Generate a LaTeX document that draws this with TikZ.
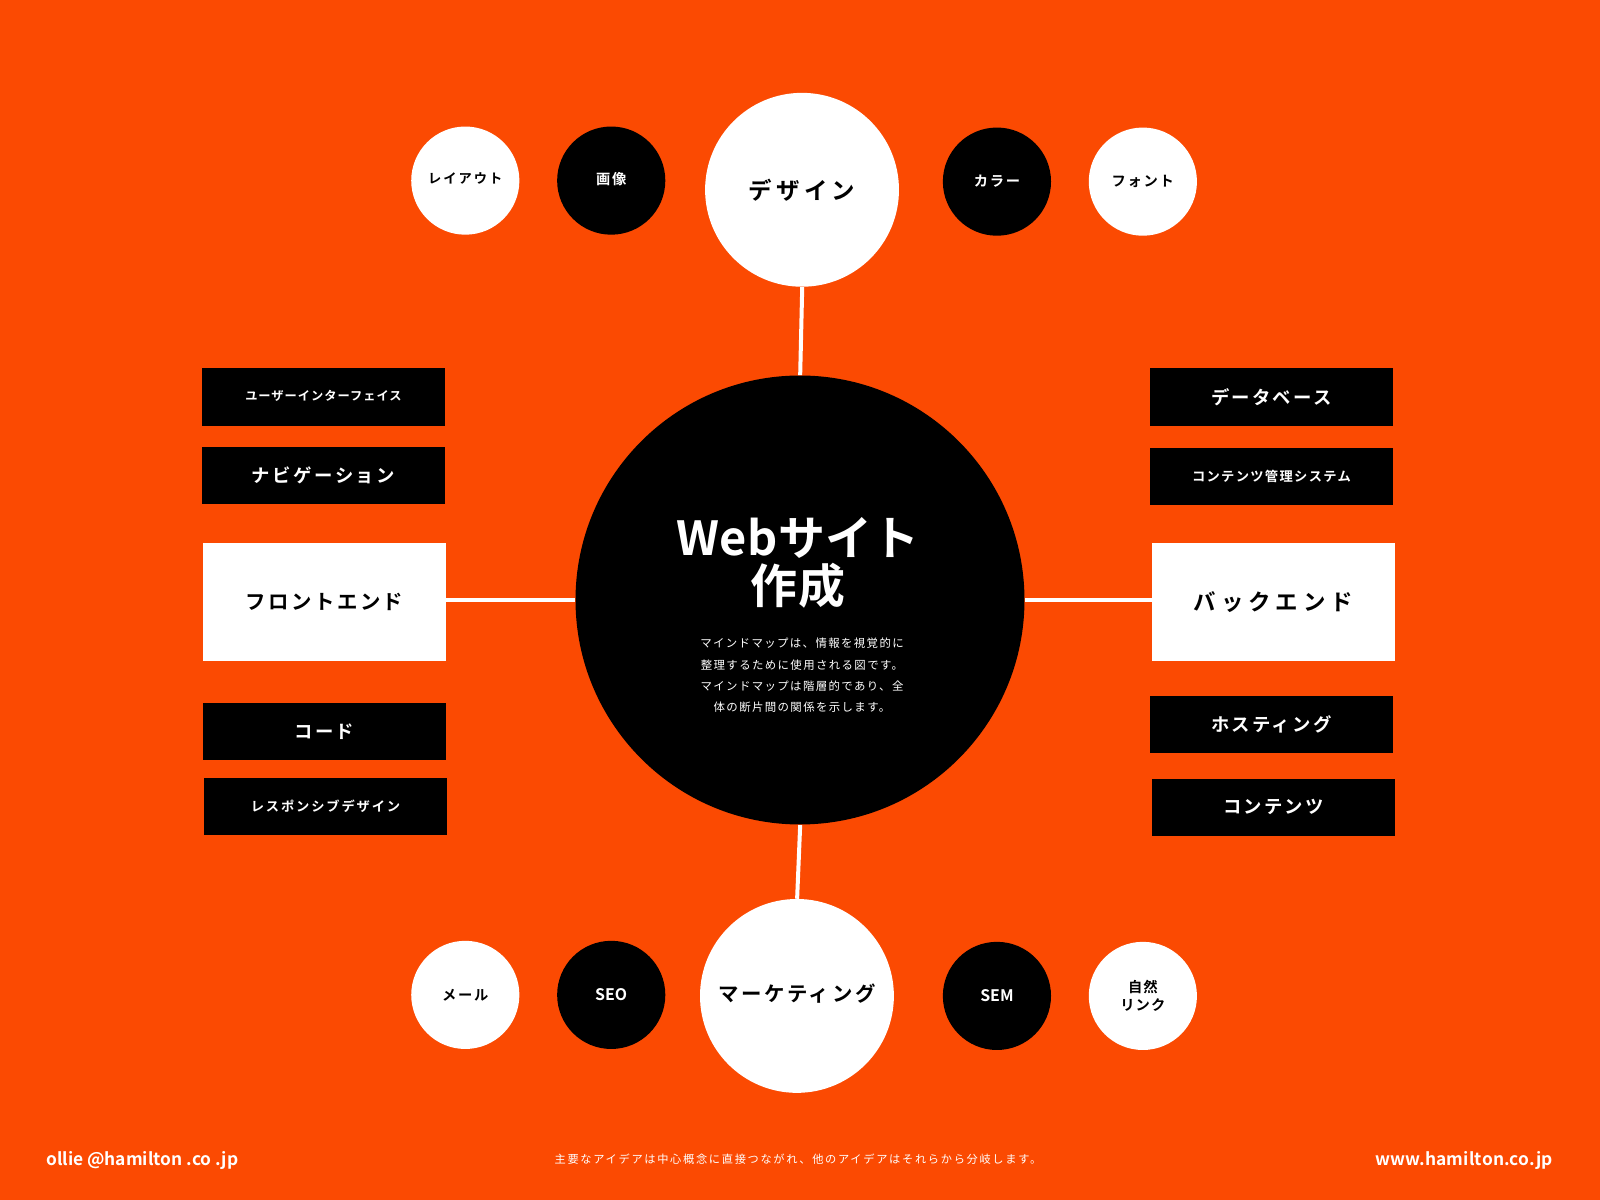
\documentclass[tikz,border=0pt]{standalone}
\usepackage{fontspec}
\newfontfamily\jp{Noto Sans CJK JP}[BoldFont=* Bold]
\newcommand\jf[3]{\jp\bfseries\fontsize{#1}{#2}\selectfont\addfontfeatures{LetterSpace=#3}}
\newcommand\jr[3]{\jp\fontsize{#1}{#2}\selectfont\addfontfeatures{LetterSpace=#3}}
\definecolor{bg}{RGB}{251,74,2}
\tikzset{
  hub/.style={circle, fill=black, minimum size=220pt, inner sep=0pt},
  bigw/.style={circle, fill=white, minimum size=95pt, inner sep=0pt, text=black},
  smw/.style={circle, fill=white, minimum size=53pt, inner sep=0pt, text=black, align=center},
  smb/.style={circle, fill=black, minimum size=53pt, inner sep=0pt, text=white, align=center},
  bbox/.style={rectangle, fill=black, minimum width=119pt, minimum height=28pt, inner sep=0pt, text=white},
  wbox/.style={rectangle, fill=white, minimum width=119pt, minimum height=58pt, inner sep=0pt, text=black},
  link/.style={draw=white, line width=2pt},
  foot/.style={text=white, inner sep=0pt}
}
\begin{document}
\begin{tikzpicture}[x=0.5pt, y=-0.5pt, scale=1.020408, transform shape]
\useasboundingbox (0,0) rectangle (1568,1176);
\fill[bg] (0,0) rectangle (1568,1176);

% hub
\node[hub] (hub) at (784,588) {};
\node[text=white, align=center, inner sep=0pt, font=\jf{23}{23.5pt}{1}] (title) at (782,552) {Webサイト\\作成};
\node[text=white, align=center, inner sep=0pt, font=\jr{5.6}{10.5pt}{12}] (desc) at (786,662)
  {マインドマップは、情報を視覚的に\\整理するために使用される図です。\\マインドマップは階層的であり、全\\体の断片間の関係を示します。};

% main branches
\node[bigw, font=\jf{11.5}{13pt}{18}] (design) at (786,186) {デザイン};
\node[bigw, font=\jf{10}{12pt}{13}] (mkt) at (781,976) {\raisebox{3pt}{マーケティング}};
\node[wbox, font=\jf{10}{12pt}{12}] (front) at (318,590) {フロントエンド};
\node[wbox, font=\jf{11}{12pt}{22}] (back) at (1248,590) {バックエンド};

% connectors
\draw[link] (design.south) -- (hub.north);
\draw[link] (hub.south) -- (mkt.north);
\draw[link] (front.east |- hub.west) -- (hub.west);
\draw[link] (hub.east) -- (back.west |- hub.east);

% design sub nodes
\node[smw, font=\jf{6.5}{8pt}{15}] (layout) at (456,177) {\raisebox{2pt}{レイアウト}};
\node[smb, font=\jf{7}{8pt}{12}] (image) at (599,177) {\raisebox{2pt}{画像}};
\node[smb, font=\jf{7}{8pt}{12}] (color) at (977,178) {カラー};
\node[smw, font=\jf{7}{8pt}{12}] (fontn) at (1120,178) {フォント};

% marketing sub nodes
\node[smw, font=\jf{7}{8pt}{12}] (mail) at (456,975) {\raisebox{-1pt}{メール}};
\node[smb, font=\jf{7.8}{8pt}{0}] (seo) at (599,975) {SEO};
\node[smb, font=\jf{7.8}{8pt}{0}] (sem) at (977,976) {SEM};
\node[smw, font=\jf{7}{8.5pt}{8}] (organic) at (1120,976) {自然\\リンク};

% frontend sub nodes
\node[bbox, font=\jf{6}{8pt}{8}] (ui) at (317,389) {\raisebox{2pt}{ユーザーインターフェイス}};
\node[bbox, font=\jf{9}{10pt}{14}] (nav) at (317,466) {ナビゲーション};
\node[bbox, font=\jf{9}{10pt}{12}] (code) at (318,717) {コード};
\node[bbox, font=\jf{6.5}{8pt}{14}] (resp) at (319,790) {レスポンシブデザイン};

% backend sub nodes
\node[bbox, font=\jf{9}{10pt}{12}] (db) at (1246,389) {データベース};
\node[bbox, font=\jf{6.5}{8pt}{10}] (cms) at (1246,467) {\raisebox{1pt}{コンテンツ管理システム}};
\node[bbox, font=\jf{9}{10pt}{12}] (host) at (1246,710) {ホスティング};
\node[bbox, font=\jf{9}{10pt}{12}] (cont) at (1248,791) {コンテンツ};

% footer
\node[foot, anchor=west, font=\jf{8.5}{10pt}{0}] (mailaddr) at (45,1137) {ollie @hamilton .co .jp};
\node[foot, anchor=east, font=\jf{8.5}{10pt}{1}] (web) at (1522,1137) {www.hamilton.co.jp};
\node[foot, font=\jr{5.5}{7pt}{15}] (note) at (782,1136) {主要なアイデアは中心概念に直接つながれ、他のアイデアはそれらから分岐します。};
\end{tikzpicture}
\end{document}
